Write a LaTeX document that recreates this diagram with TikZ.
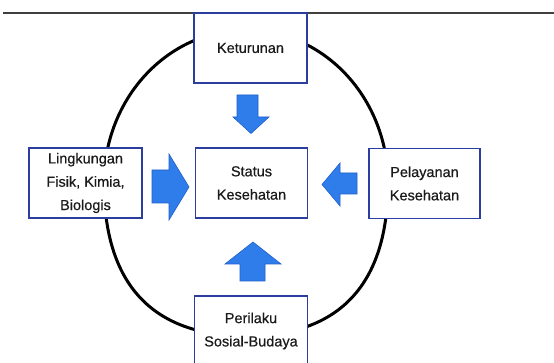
\documentclass[tikz,border=0pt]{standalone}
\usepackage{fontspec}
\setmainfont{Liberation Sans}
\newfontfamily\labelfont{Liberation Sans}[FakeBold=0.5]
\definecolor{boxblue}{HTML}{2B3D9E}
\definecolor{arrfill}{HTML}{2F7DEB}
\definecolor{arredge}{HTML}{1F5FCB}
\definecolor{txt}{HTML}{1A1A1A}
\begin{document}
\begin{tikzpicture}[x=1pt,y=-1pt,
  factor/.style={draw=boxblue, line width=1.4pt, fill=white, text=txt,
    minimum width=#1, minimum height=70pt, inner sep=0pt, align=center,
    font=\labelfont\fontsize{14.5}{23.3}\selectfont},
  factor/.default=113pt,
  bigarrow/.style={fill=arrfill, draw=arredge, line width=0.6pt, line join=miter}]
\useasboundingbox (0,0) rectangle (554,363);
\clip (0,0) rectangle (554,363);
\fill[white] (0,0) rectangle (554,363);
% top rule
\coordinate (ruleL) at (3,13);
\coordinate (ruleR) at (554,13);
\draw[line width=1.6pt, black!75] (ruleL) -- (ruleR);
% ring
\draw[line width=3pt, black] (104,183) .. controls (104,98.5) and (167.6,30) .. (246,30)
  .. controls (324.4,30) and (388,98.5) .. (388,183)
  .. controls (388,284) and (339.7,336) .. (246,336)
  .. controls (152.3,336) and (104,284) .. cycle;
% boxes
\node[factor] (ket) at (250.5,48) {\raisebox{-4pt}{Keturunan}};
\node[factor=112pt] (status) at (251.5,183) {Status\\Kesehatan};
\node[factor=113pt] (ling) at (85.5,183) {Lingkungan\\Fisik, Kimia,\\Biologis};
\node[factor=111pt] (pel) at (424.5,183.5) {Pelayanan\\Kesehatan};
\node[factor] (per) at (251,331) {Perilaku\\Sosial-Budaya};
% arrows
\draw[bigarrow] (237,95) -- (258,95) -- (258,117) -- (269,117) -- (251,133.5) -- (233,117) -- (237,117) -- cycle;
\draw[bigarrow] (152,170) -- (169,170) -- (169,154) -- (189,187) -- (169,220) -- (169,203) -- (152,203) -- cycle;
\draw[bigarrow] (357,173) -- (340,173) -- (340,163) -- (322,184.5) -- (340,206) -- (340,194) -- (357,194) -- cycle;
\draw[bigarrow] (240,281) -- (240,264) -- (225,264) -- (253,242) -- (281,264) -- (265,264) -- (265,281) -- cycle;
\end{tikzpicture}
\end{document}
